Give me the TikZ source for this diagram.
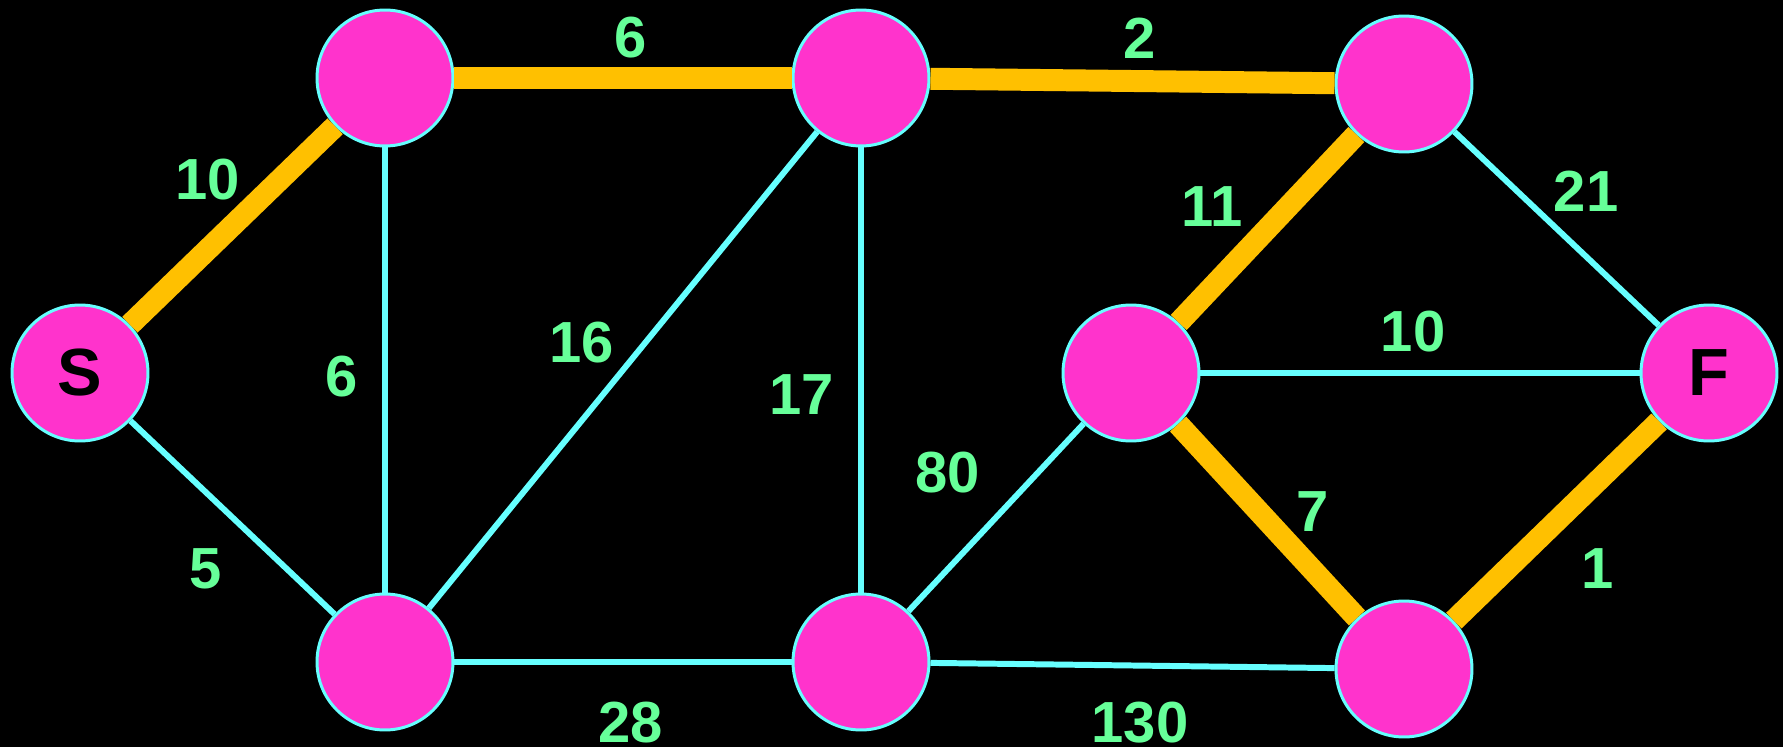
\documentclass[tikz,border=0pt]{standalone}
\usepackage{fontspec}
\setmainfont{Liberation Sans}

\begin{document}
\begin{tikzpicture}[x=0.02cm,y=-0.02cm]
    % Colores
    \definecolor{nodecolor}{HTML}{FF33CC}
    \definecolor{rimcolor}{HTML}{66FFFF}
    \definecolor{pathcolor}{HTML}{FFC000}
    \definecolor{weightcolor}{HTML}{66FF99}

    \tikzset{
        vertex/.style={circle,fill=nodecolor,draw=rimcolor,line width=1.7pt,
            minimum size=2.72cm,inner sep=0pt,
            font=\fontsize{38}{40}\selectfont\bfseries},
        thin edge/.style={rimcolor,line width=3.4pt},
        best edge/.style={pathcolor,line width=12.5pt},
        weight/.style={text=weightcolor,font=\fontsize{33}{36}\selectfont\bfseries}
    }

    % Fondo
    \useasboundingbox (0,0) rectangle (1783,747);
    \fill[black] (0,0) rectangle (1783,747);

    % Vertices
    \node[vertex] (s) at (80,373) {S};
    \node[vertex] (a) at (385,78) {};
    \node[vertex] (b) at (385,662) {};
    \node[vertex] (c) at (861,78) {};
    \node[vertex] (d) at (861,662) {};
    \node[vertex] (e) at (1404,84) {};
    \node[vertex] (m) at (1131,373) {};
    \node[vertex] (g) at (1404,669) {};
    \node[vertex] (f) at (1709,373) {F};

    % Aristas
    \foreach \u/\v in {a/b,s/b,b/c,c/d,b/d,d/m,d/g,e/f,m/f}
    {
        \draw[thin edge] (\u) -- (\v);
    }
    \foreach \u/\v in {s/a,a/c,c/e,e/m,m/g,g/f}
    {
        \draw[best edge] (\u) -- (\v);
    }

    % Pesos
    \node[weight] (w1) at (631,38) {6};
    \node[weight] (w2) at (1140,38) {2};
    \node[weight] (w3) at (208,180) {10};
    \node[weight] (w4) at (1586,191) {21};
    \node[weight] (w5) at (1212,207) {11};
    \node[weight] (w6) at (582,343) {16};
    \node[weight] (w7) at (342,377) {6};
    \node[weight] (w8) at (802,395) {17};
    \node[weight] (w9) at (1413,332) {10};
    \node[weight] (w10) at (948,473) {80};
    \node[weight] (w11) at (1313,512) {7};
    \node[weight] (w12) at (206,569) {5};
    \node[weight] (w13) at (1598,569) {1};
    \node[weight] (w14) at (631,723) {28};
    \node[weight] (w15) at (1140,723) {130};

\end{tikzpicture}
\end{document}
